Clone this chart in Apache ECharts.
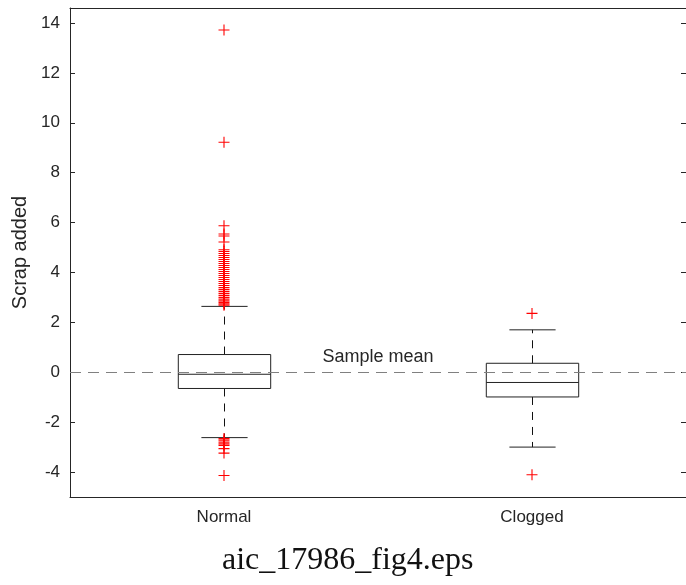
<!DOCTYPE html>
<html lang="en">
	<head>
		<meta charset="UTF-8" />
		<title>Scrap added boxplot</title>
		<script src="https://cdn.jsdelivr.net/npm/echarts@6/dist/echarts.min.js"></script>
		<style>
			html, body { margin: 0; padding: 0; background: #fff; }
			#chart { width: 686px; height: 585px; }
		</style>
	</head>
	<body>
		<div id="chart"></div>
		<script type="text/javascript">
			// categories and box statistics
			var categories = ['Normal', 'Clogged'];
			var lowerWhisker = [-2.62, -3.0];
			var q1 = [-0.65, -0.99];
			var median = [-0.08, -0.41];
			var q3 = [0.71, 0.36];
			var upperWhisker = [2.64, 1.70];

			// outliers
			var normalOutliers = [13.72, 9.22, 5.87, 5.54, 5.46, 5.22, 4.91, 4.84, 4.76, 4.68, 4.6, 4.52,
				4.44, 4.36, 4.28, 4.2, 4.12, 4.04, 3.96, 3.88, 3.8, 3.72, 3.64, 3.56, 3.48, 3.4, 3.32,
				3.24, 3.16, 3.08, 3.0, 2.93, 2.86, 2.8, 2.74, 2.69,
				-2.66, -2.72, -2.8, -2.87, -2.93, -3.06, -3.24, -4.14];
			var cloggedOutliers = [2.36, -4.11];

			var sampleMean = 0;
			var yTicks = [-4, -2, 0, 2, 4, 6, 8, 10, 12, 14];

			var boxData = [];
			for (var i = 0; i < categories.length; i++) {
				boxData.push([i, lowerWhisker[i], q1[i], median[i], q3[i], upperWhisker[i]]);
			}
			var outlierData = [];
			normalOutliers.forEach(function(v) { outlierData.push([categories[0], v]); });
			cloggedOutliers.forEach(function(v) { outlierData.push([categories[1], v]); });

			var axisColor = '#262626';
			var font = 'Liberation Sans, Arial, sans-serif';

			function renderBox(params, api) {
				var idx = api.value(0);
				var bw = api.size([1, 0])[0] * 0.3;
				var cw = bw / 2;
				var pLw = api.coord([idx, api.value(1)]);
				var pQ1 = api.coord([idx, api.value(2)]);
				var pMed = api.coord([idx, api.value(3)]);
				var pQ3 = api.coord([idx, api.value(4)]);
				var pUw = api.coord([idx, api.value(5)]);
				var x = Math.round(pMed[0]) + 0.5;
				var solid = { stroke: '#222', lineWidth: 1, fill: null };
				var dashed = { stroke: '#111', lineWidth: 1, lineDash: [8, 7], fill: null };
				return {
					type: 'group',
					children: [
						{ type: 'line', shape: { x1: x, y1: pQ3[1], x2: x, y2: pUw[1] }, style: dashed },
						{ type: 'line', shape: { x1: x, y1: pQ1[1], x2: x, y2: pLw[1] }, style: dashed },
						{ type: 'line', shape: { x1: x - cw / 2, y1: pUw[1], x2: x + cw / 2, y2: pUw[1] }, style: solid },
						{ type: 'line', shape: { x1: x - cw / 2, y1: pLw[1], x2: x + cw / 2, y2: pLw[1] }, style: solid },
						{ type: 'rect', shape: { x: x - bw / 2, y: pQ3[1], width: bw, height: pQ1[1] - pQ3[1] },
							style: { stroke: '#222', lineWidth: 1, fill: 'rgba(0,0,0,0)' } },
						{ type: 'line', shape: { x1: x - bw / 2, y1: pMed[1], x2: x + bw / 2, y2: pMed[1] }, style: solid }
					]
				};
			}

			var yLabelFmt = function(v) {
				return yTicks.indexOf(Math.round(v * 1000) / 1000) >= 0 ? String(v) : '';
			};

			var chart = echarts.init(document.getElementById('chart'), null, { renderer: 'canvas' });
			var option = {
				animation: false,
				backgroundColor: '#fff',
				grid: { left: 70, right: -1, top: 8, bottom: 88 },
				xAxis: [{
					type: 'category',
					data: categories,
					boundaryGap: true,
					axisLine: { onZero: false, lineStyle: { color: axisColor, width: 1 } },
					axisTick: { inside: true, alignWithLabel: true, length: 5, lineStyle: { color: axisColor } },
					axisLabel: { color: axisColor, fontSize: 17, fontFamily: font, margin: 12 },
					splitLine: { show: false }
				}, {
					type: 'category',
					position: 'top',
					data: categories,
					boundaryGap: true,
					axisLine: { onZero: false, lineStyle: { color: axisColor, width: 1 } },
					axisTick: { inside: true, alignWithLabel: true, length: 5, lineStyle: { color: axisColor } },
					axisLabel: { show: false },
					splitLine: { show: false }
				}],
				yAxis: [{
					type: 'value',
					min: -5,
					max: 14.6,
					splitNumber: 10,
					name: 'Scrap added',
					nameLocation: 'middle',
					nameGap: 36,
					nameTextStyle: { color: axisColor, fontSize: 20, fontFamily: font },
					axisLine: { show: true, onZero: false, lineStyle: { color: axisColor, width: 1 } },
					axisTick: { show: true, inside: true, length: 5, lineStyle: { color: axisColor } },
					axisLabel: { color: axisColor, fontSize: 17, fontFamily: font, margin: 10,
						showMinLabel: false, showMaxLabel: false, formatter: yLabelFmt },
					splitLine: { show: false }
				}, {
					type: 'value',
					position: 'right',
					min: -5,
					max: 14.6,
					splitNumber: 10,
					axisLine: { show: true, onZero: false, lineStyle: { color: axisColor, width: 1 } },
					axisTick: { show: true, inside: true, length: 5, lineStyle: { color: axisColor } },
					axisLabel: { show: false },
					splitLine: { show: false }
				}],
				graphic: [{
					type: 'text',
					x: 222,
					y: 561,
					style: {
						text: 'aic_17986_fig4.eps',
						fill: '#111',
						font: '32px "Liberation Serif", serif',
						verticalAlign: 'middle'
					}
				}],
				series: [{
					type: 'custom',
					name: 'box',
					renderItem: renderBox,
					data: boxData,
					encode: { x: 0, y: [1, 2, 3, 4, 5] },
					z: 2,
					markLine: {
						silent: true,
						symbol: ['none', 'none'],
						lineStyle: { color: '#808080', type: [11, 7], width: 1 },
						label: {
							show: true,
							position: 'middle',
							formatter: 'Sample mean',
							color: axisColor,
							fontSize: 18,
							fontFamily: font,
							distance: 6
						},
						data: [{ yAxis: sampleMean }]
					}
				}, {
					type: 'scatter',
					name: 'outliers',
					data: outlierData,
					symbol: 'path://M0,4.5 H10 V5.5 H0 Z M4.5,0 H5.5 V10 H4.5 Z',
					symbolSize: 11,
					itemStyle: { color: '#ff0000', opacity: 1 },
					z: 3
				}]
			};
			chart.setOption(option);
		</script>
	</body>
</html>
